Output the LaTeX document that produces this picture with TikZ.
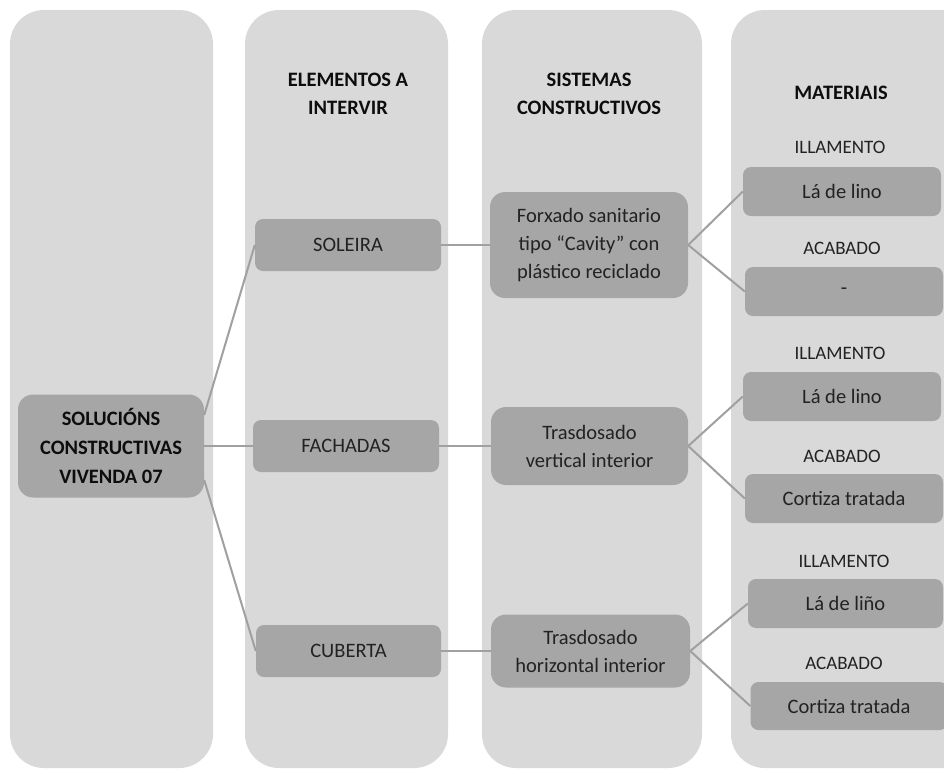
\documentclass[tikz,border=0pt]{standalone}
\usepackage{fontspec}
\setmainfont{Carlito}
\usetikzlibrary{calc}
\definecolor{colbg}{HTML}{D9D9D9}
\definecolor{boxbg}{HTML}{A6A6A6}
\definecolor{txt}{HTML}{222222}
\definecolor{hdr}{HTML}{0D0D0D}
\definecolor{lin}{HTML}{A0A0A0}
\tikzset{
  colbox/.style={fill=colbg, draw=none, rounded corners=34pt},
  item/.style={fill=boxbg, draw=none, rounded corners=8pt, text=txt, align=center,
    inner sep=0pt, font=\fontsize{20.5}{28}\selectfont},
  bigitem/.style={item, rounded corners=15pt},
  header/.style={text=hdr, align=center, font=\fontsize{20.5}{28}\selectfont\bfseries},
  sublabel/.style={text=txt, font=\fontsize{19}{23}\selectfont},
  conn/.style={draw=lin, line width=2pt}
}
\begin{document}
\begin{tikzpicture}[x=1pt,y=-1pt]
\useasboundingbox (0,0) rectangle (944,769);
\clip (0,0) rectangle (944,769);
\fill[white] (0,0) rectangle (944,769);
% columns
\path[colbox] (10,10) rectangle (213,768);
\path[colbox] (245,10) rectangle (448,768);
\path[colbox] (482,10) rectangle (702,768);
\path[colbox] (731,10) rectangle (980,768);
% headers
\node[header] (h2) at (348,94) {ELEMENTOS A\\INTERVIR};
\node[header] (h3) at (589,94) {SISTEMAS\\CONSTRUCTIVOS};
\node[header] (h4) at (841,93) {MATERIAIS};
% sublabels
\node[sublabel] (l1a) at (840,147) {ILLAMENTO};
\node[sublabel] (l1b) at (842,248) {ACABADO};
\node[sublabel] (l2a) at (840,353) {ILLAMENTO};
\node[sublabel] (l2b) at (842,456) {ACABADO};
\node[sublabel] (l3a) at (844,561) {ILLAMENTO};
\node[sublabel] (l3b) at (844,663) {ACABADO};
% nodes
\node[bigitem, minimum width=186pt, minimum height=103pt, font=\fontsize{20.5}{29}\selectfont\bfseries, text=hdr] (root) at (111,446) {SOLUCIÓNS\\CONSTRUCTIVAS\\VIVENDA 07};
\node[item, minimum width=186pt, minimum height=52pt] (soleira) at (348,245) {SOLEIRA};
\node[item, minimum width=186pt, minimum height=52pt] (fachadas) at (346,446) {FACHADAS};
\node[item, minimum width=185pt, minimum height=52pt] (cuberta) at (348.5,651) {CUBERTA};
\node[bigitem, minimum width=198pt, minimum height=106pt] (forxado) at (589,245) {Forxado sanitario\\tipo “Cavity” con\\plástico reciclado};
\node[bigitem, minimum width=197pt, minimum height=78pt] (tvert) at (589.5,446) {Trasdosado\\vertical interior};
\node[bigitem, minimum width=199pt, minimum height=73pt] (thor) at (590.5,651) {Trasdosado\\horizontal interior};
\node[item, minimum width=198pt, minimum height=49pt] (m1a) at (842,191.5) {Lá de lino};
\node[item, minimum width=198pt, minimum height=49pt] (m1b) at (844,291.5) {-};
\node[item, minimum width=198pt, minimum height=49pt] (m2a) at (842,396.5) {Lá de lino};
\node[item, minimum width=198pt, minimum height=49pt] (m2b) at (844,498.5) {Cortiza tratada};
\node[item, minimum width=195pt, minimum height=49pt] (m3a) at (845.5,603.5) {Lá de liño};
\node[item, minimum width=197pt, minimum height=48pt] (m3b) at (849,706) {Cortiza tratada};
% connectors
\draw[conn] ($(root.east)+(0,-31)$) -- (soleira.west);
\draw[conn] (root.east) -- (fachadas.west);
\draw[conn] ($(root.east)+(0,34)$) -- (cuberta.west);
\draw[conn] (soleira.east) -- (forxado.west);
\draw[conn] (fachadas.east) -- (tvert.west);
\draw[conn] (cuberta.east) -- (thor.west);
\draw[conn] (forxado.east) -- (m1a.west);
\draw[conn] (forxado.east) -- (m1b.west);
\draw[conn] (tvert.east) -- (m2a.west);
\draw[conn] (tvert.east) -- (m2b.west);
\draw[conn] (thor.east) -- (m3a.west);
\draw[conn] (thor.east) -- (m3b.west);
\end{tikzpicture}
\end{document}
